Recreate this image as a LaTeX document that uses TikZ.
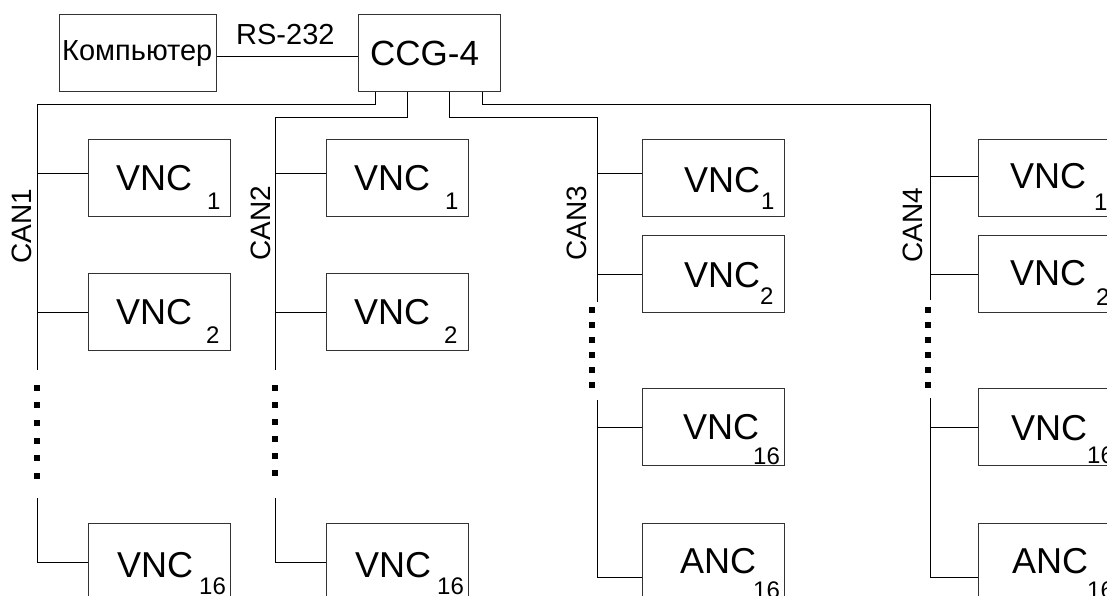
\documentclass[tikz,border=0pt]{standalone}
\usepackage{fontspec}
\setmainfont{Liberation Sans}
\usetikzlibrary{calc}
\tikzset{
  devbox/.style={draw=black!80, line width=1pt, minimum width=142pt, minimum height=77pt, inner sep=0pt, anchor=north west},
  wire/.style={draw=black, line width=1pt},
  bigtxt/.style={font=\fontsize{36}{40}\selectfont, inner sep=0pt, anchor=base west},
  subtxt/.style={font=\fontsize{24}{27}\selectfont, inner sep=0pt, anchor=base west},
  cantxt/.style={font=\fontsize{28}{30}\selectfont, inner sep=0pt, rotate=90},
  busdot/.style={fill=black, minimum size=6pt, inner sep=0pt},
}
\begin{document}
\begin{tikzpicture}[x=1pt,y=-1pt]
\useasboundingbox (0,0) rectangle (1107,595);
\clip (0,0) rectangle (1107,595);

% top boxes
\node[devbox, minimum width=157pt] (pc) at (59,14) {};
\node[devbox] (ccg) at (358,14) {};
\node[font=\fontsize{29}{32}\selectfont, inner sep=0pt, anchor=base west] (pctext) at (62,60) {Компьютер};
\node[bigtxt, font=\fontsize{35}{40}\selectfont] (ccgtext) at (370,65) {CCG-4};
\node[font=\fontsize{29}{32}\selectfont, inner sep=0pt, anchor=base west] (rs) at (236,44) {RS-232};
\draw[wire] ([yshift=-3.5pt]pc.east) -- ([yshift=-3.5pt]ccg.west);

% CAN1 boxes
\node[devbox] (c1v1) at (88,139) {};
\node[devbox] (c1v2) at (88,273) {};
\node[devbox] (c1v16) at (88,523) {};
\node[bigtxt] (t1a) at (116,190) {VNC};  \node[subtxt] (s1a) at (207,209) {1};
\node[bigtxt] (t1b) at (116,324) {VNC};  \node[subtxt] (s1b) at (206,343) {2};
\node[bigtxt] (t1c) at (117,577) {VNC};  \node[subtxt] (s1c) at (199,594) {16};

% CAN2 boxes
\node[devbox] (c2v1) at (326,139) {};
\node[devbox] (c2v2) at (326,273) {};
\node[devbox] (c2v16) at (326,523) {};
\node[bigtxt] (t2a) at (354,190) {VNC};  \node[subtxt] (s2a) at (445,209) {1};
\node[bigtxt] (t2b) at (354,324) {VNC};  \node[subtxt] (s2b) at (444,343) {2};
\node[bigtxt] (t2c) at (355,577) {VNC};  \node[subtxt] (s2c) at (437,594) {16};

% CAN3 boxes
\node[devbox] (c3v1) at (642,139) {};
\node[devbox] (c3v2) at (642,235) {};
\node[devbox] (c3v16) at (642,388) {};
\node[devbox] (c3anc) at (642,523) {};
\node[bigtxt] (t3a) at (684,192) {VNC};  \node[subtxt] (s3a) at (761,209) {1};
\node[bigtxt] (t3b) at (684,287) {VNC};  \node[subtxt] (s3b) at (760,304) {2};
\node[bigtxt] (t3c) at (683,439) {VNC};  \node[subtxt] (s3c) at (753,464) {16};
\node[bigtxt] (t3d) at (680,573) {ANC};  \node[subtxt] (s3d) at (753,598) {16};

% CAN4 boxes
\node[devbox] (c4v1) at (978,139) {};
\node[devbox] (c4v2) at (978,235) {};
\node[devbox] (c4v16) at (978,388) {};
\node[devbox] (c4anc) at (978,523) {};
\node[bigtxt] (t4a) at (1010,188) {VNC};  \node[subtxt] (s4a) at (1094,210) {1};
\node[bigtxt] (t4b) at (1010,285) {VNC};  \node[subtxt] (s4b) at (1096,305) {2};
\node[bigtxt] (t4c) at (1011,440) {VNC};  \node[subtxt] (s4c) at (1087,463) {16};
\node[bigtxt] (t4d) at (1012,573) {ANC};  \node[subtxt] (s4d) at (1087,598) {16};

% CAN labels
\node[cantxt] (can1) at (22,226) {CAN1};
\node[cantxt] (can2) at (260.5,223) {CAN2};
\node[cantxt] (can3) at (577,223) {CAN3};
\node[cantxt] (can4) at (913,225) {CAN4};

% bus coordinates
\coordinate (b1top) at (37,104);  \coordinate (b1a) at (37,370);  \coordinate (b1b) at (37,498);
\coordinate (b2top) at (275,117); \coordinate (b2a) at (275,370); \coordinate (b2b) at (275,498);
\coordinate (b3top) at (597,117); \coordinate (b3a) at (597,302); \coordinate (b3b) at (597,400);
\coordinate (b4top) at (930,104); \coordinate (b4a) at (930,300); \coordinate (b4b) at (930,398);

% CAN1 bus
\draw[wire] ($(ccg.south west)+(17,0)$) |- (b1top) -- (b1a);
\draw[wire] (b1b) |- (c1v16.west);
\draw[wire] ([yshift=4.5pt]c1v1.west) -- ([yshift=4.5pt]c1v1.west -| b1top);
\draw[wire] (c1v2.west) -- (c1v2.west -| b1top);

% CAN2 bus
\draw[wire] ($(ccg.south west)+(49,0)$) |- (b2top) -- (b2a);
\draw[wire] (b2b) |- (c2v16.west);
\draw[wire] ([yshift=4.5pt]c2v1.west) -- ([yshift=4.5pt]c2v1.west -| b2top);
\draw[wire] (c2v2.west) -- (c2v2.west -| b2top);

% CAN3 bus
\draw[wire] ($(ccg.south west)+(91,0)$) |- (b3top) -- (b3a);
\draw[wire] (b3b) |- ([yshift=-15.5pt]c3anc.west);
\draw[wire] ([yshift=4.5pt]c3v1.west) -- ([yshift=4.5pt]c3v1.west -| b3top);
\draw[wire] (c3v2.west) -- (c3v2.west -| b3top);
\draw[wire] (c3v16.west) -- (c3v16.west -| b3top);

% CAN4 bus
\draw[wire] ($(ccg.south west)+(124,0)$) |- (b4top) -- (b4a);
\draw[wire] (b4b) |- ([yshift=-15.5pt]c4anc.west);
\draw[wire] ([yshift=1.5pt]c4v1.west) -- ([yshift=1.5pt]c4v1.west -| b4top);
\draw[wire] (c4v2.west) -- (c4v2.west -| b4top);
\draw[wire] (c4v16.west) -- (c4v16.west -| b4top);

% dots
\foreach \k in {0,...,5} {
  \node[busdot] (da\k) at (37,387.5+17.7*\k) {};
  \node[busdot] (db\k) at (275,388+17*\k) {};
  \node[busdot] (dc\k) at (592,310+15*\k) {};
  \node[busdot] (dd\k) at (928,310+15*\k) {};
}
\end{tikzpicture}
\end{document}
